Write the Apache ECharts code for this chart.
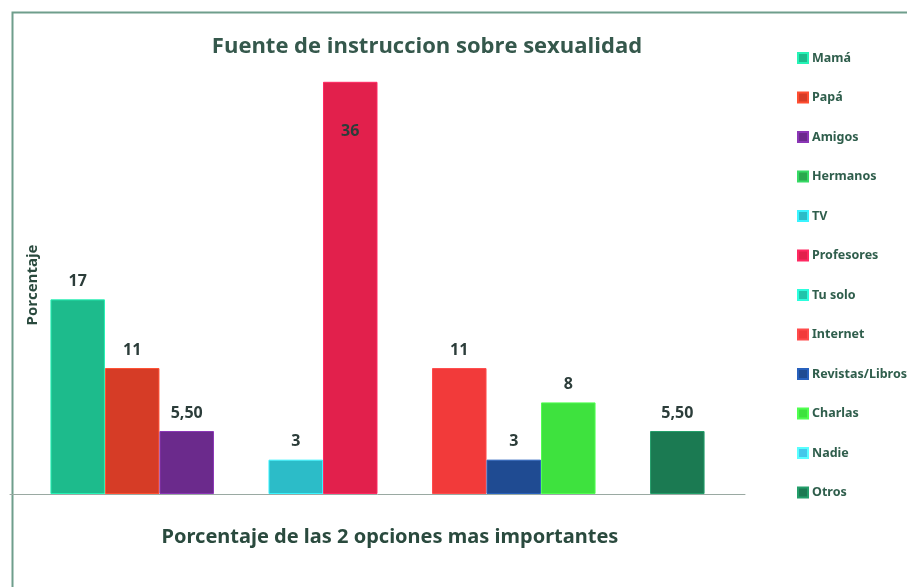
<!DOCTYPE html>
<html><head><meta charset="utf-8">
<script src="https://cdn.jsdelivr.net/npm/echarts@6/dist/echarts.min.js"></script>
<style>html,body{margin:0;padding:0;background:#fff}#c{width:907px;height:587px}</style>
</head><body><div id="c"></div>
<script>
const seriesNames = ['Mamá','Papá','Amigos','Hermanos','TV','Profesores','Tu solo','Internet','Revistas/Libros','Charlas','Nadie','Otros'];
const seriesValues = [17, 11, 5.5, null, 3, 36, null, 11, 3, 8, null, 5.5];
const seriesColors = ['#1dbb8c','#d63c26','#6b2a8c','#2aa84e','#2cbcc8','#e2204c','#22c4aa','#f23a3a','#1f4b92','#3ee23e','#44c8ea','#1b7a52'];
const categories = [''];

const labelColor = '#2c3d3a';
const chart = echarts.init(document.getElementById('c'));
const series = seriesNames.map((n, i) => ({
  name: n,
  type: 'bar',
  data: [seriesValues[i]],
  barGap: '0%',
  barCategoryGap: '11%',
  itemStyle: { color: seriesColors[i], borderColor: echarts.color.lift(seriesColors[i], -0.3), borderWidth: 1 },
  label: {
    show: seriesValues[i] !== null,
    position: seriesValues[i] > 30 ? 'insideTop' : 'top',
    distance: seriesValues[i] > 30 ? 42 : 10,
    color: labelColor,
    fontFamily: 'Open Sans',
    fontWeight: 'bold',
    fontSize: 16,
    formatter: p => (Number.isInteger(p.value) ? String(p.value) : p.value.toFixed(2).replace('.', ','))
  }
}));
chart.setOption({
  animation: false,
  title: {
    text: 'Fuente de instruccion sobre sexualidad',
    left: 422, top: 31, textAlign: 'center',
    textStyle: { fontFamily: 'Open Sans', fontWeight: 'bold', fontSize: 22, color: '#35584c' }
  },
  legend: {
    orient: 'vertical', left: 792, top: 46,
    icon: 'rect', itemWidth: 10, itemHeight: 10, itemGap: 25.5,
    textStyle: { fontFamily: 'Noto Sans', fontWeight: 'bold', fontSize: 12.5, color: '#2f5e4c', lineHeight: 14, padding: [0,0,0,-1] },
    data: seriesNames
  },
  grid: { left: 10, right: 162, top: 36, bottom: 93, outerBoundsMode: 'none', containLabel: false },
  xAxis: {
    type: 'category', data: categories,
    axisLine: { lineStyle: { color: '#9aa9a2', width: 1 } },
    axisTick: { show: false }, axisLabel: { show: false }
  },
  yAxis: {
    type: 'value', min: 0, max: 40,
    axisLine: { show: false }, axisTick: { show: false }, axisLabel: { show: false },
    splitLine: { show: false }
  },
  graphic: [{
    type: 'rect', left: 10, top: 10, silent: true,
    shape: { width: 920, height: 600 },
    style: { fill: 'none', stroke: '#6f9e8c', lineWidth: 2 }
  }, {
    type: 'text', x: 33, y: 285, rotation: Math.PI / 2, silent: true,
    style: { text: 'Porcentaje', align: 'center', verticalAlign: 'middle',
      font: 'bold 15px "Open Sans"', fill: '#2a4a3e' }
  }, {
    type: 'text', x: 390, y: 537, silent: true,
    style: { text: 'Porcentaje de las 2 opciones mas importantes', align: 'center', verticalAlign: 'middle',
      font: 'bold 20px "Noto Sans"', fill: '#2a4a3e' }
  }],
  series: series
});
</script></body></html>
